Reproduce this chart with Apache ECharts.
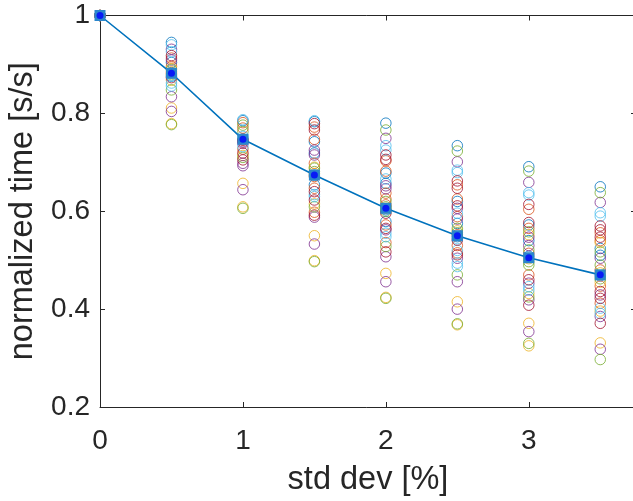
<!DOCTYPE html>
<html>
<head>
<meta charset="utf-8">
<script src="https://cdn.jsdelivr.net/npm/echarts@6/dist/echarts.min.js"></script>
<style>html,body{margin:0;padding:0;background:#fff;}#c{width:633px;height:501px;}</style>
</head>
<body>
<div id="c"></div>
<script>
// MATLAB default colour order
const palette = ['#0072BD','#D95319','#EDB120','#7E2F8E','#77AC30','#4DBEEE','#A2142F'];
const B=0,O=1,Y=2,P=3,G=4,C=5,R=6;

const stdDev = [0, 0.5, 1, 1.5, 2, 2.5, 3, 3.5];
const meanTime = [1, 0.882, 0.747, 0.674, 0.606, 0.550, 0.505, 0.470];

const col0 = [1,1,1,1,1,1,1];
const col0Colors = [B,O,Y,P,G,C,R];
const col05 = [0.945,0.940,0.931,0.926,0.918,0.913,0.909,0.904,0.896,0.892,0.889,0.885,0.882,0.879,0.876,0.873,0.868,0.862,0.856,0.848,0.834,0.811,0.804,0.779,0.777];
const col05Colors = [B,C,P,C,R,O,P,B,O,Y,G,Y,O,G,B,R,Y,C,C,G,P,Y,P,Y,G];
const col10 = [0.787,0.785,0.781,0.776,0.770,0.763,0.753,0.748,0.745,0.742,0.739,0.732,0.727,0.719,0.714,0.710,0.705,0.698,0.693,0.657,0.644,0.606,0.609];
const col10Colors = [C,B,O,G,O,G,C,B,R,P,P,C,O,R,Y,G,R,P,P,Y,P,G,Y];
const col15 = [0.785,0.783,0.779,0.772,0.766,0.747,0.742,0.725,0.719,0.715,0.698,0.690,0.688,0.681,0.677,0.674,0.671,0.654,0.647,0.640,0.634,0.630,0.623,0.615,0.609,0.598,0.592,0.588,0.550,0.533,0.497,0.499];
const col15Colors = [C,B,R,O,R,O,B,P,B,P,O,Y,G,G,Y,B,O,B,O,R,C,C,R,Y,G,O,R,P,Y,P,G,Y];
const col20 = [0.780,0.766,0.749,0.734,0.725,0.715,0.706,0.703,0.682,0.678,0.666,0.657,0.652,0.646,0.637,0.625,0.620,0.613,0.609,0.606,0.603,0.600,0.596,0.579,0.572,0.565,0.562,0.555,0.548,0.536,0.528,0.517,0.507,0.473,0.456,0.422,0.424];
const col20Colors = [B,G,P,C,C,R,R,O,O,B,C,B,P,P,O,O,G,O,G,Y,B,G,R,B,O,R,P,C,C,O,G,R,P,Y,P,G,Y];
const col25 = [0.734,0.723,0.701,0.684,0.679,0.662,0.654,0.647,0.625,0.620,0.611,0.606,0.596,0.589,0.584,0.575,0.565,0.560,0.556,0.552,0.548,0.544,0.541,0.530,0.520,0.515,0.511,0.504,0.494,0.487,0.470,0.456,0.415,0.400,0.370,0.368];
const col25Colors = [B,G,P,C,C,R,O,R,O,B,R,P,C,O,P,B,G,Y,G,O,B,C,R,O,C,O,R,P,C,C,G,P,Y,P,G,Y];
const col30 = [0.691,0.682,0.659,0.638,0.633,0.614,0.604,0.577,0.572,0.565,0.558,0.552,0.547,0.540,0.530,0.521,0.514,0.508,0.503,0.497,0.490,0.470,0.460,0.453,0.446,0.439,0.432,0.425,0.419,0.408,0.371,0.354,0.330,0.325];
const col30Colors = [B,G,P,C,C,R,O,R,B,O,G,Y,P,B,P,G,O,B,Y,G,G,O,R,P,C,C,Y,G,P,R,Y,P,G,Y];
const col35 = [0.650,0.638,0.618,0.597,0.590,0.570,0.562,0.556,0.547,0.540,0.536,0.524,0.517,0.510,0.504,0.490,0.480,0.474,0.468,0.462,0.455,0.447,0.436,0.429,0.422,0.412,0.402,0.396,0.391,0.385,0.371,0.331,0.318,0.297];
const col35Colors = [B,G,P,C,C,R,R,O,R,O,Y,B,G,B,P,G,O,Y,B,G,Y,O,R,P,R,O,C,Y,C,P,R,Y,P,G];

const xTickLabels = ['0','1','2','3'];
const yTickLabels = ['0.2','0.4','0.6','0.8','1'];

const columns = [[col0,col0Colors],[col05,col05Colors],[col10,col10Colors],[col15,col15Colors],[col20,col20Colors],[col25,col25Colors],[col30,col30Colors],[col35,col35Colors]];
const perColor = palette.map(()=>[]);
columns.forEach(([vals, cols], i) => {
  vals.forEach((v, j) => perColor[cols[j]].push([stdDev[i], v]));
});

const axisCol = '#262626';
const font = 'Liberation Sans, Arial, sans-serif';
const series = palette.map((c, k) => ({
  type: 'scatter',
  data: perColor[k],
  symbol: 'circle',
  symbolSize: 10.5,
  silent: true,
  itemStyle: { color: 'rgba(0,0,0,0)', borderColor: c, borderWidth: 1 },
  z: 2
}));
series.push({
  type: 'line',
  data: stdDev.map((x, i) => [x, meanTime[i]]),
  symbol: 'rect',
  symbolSize: 11,
  showSymbol: true,
  lineStyle: { color: '#0072BD', width: 1.6 },
  itemStyle: { color: '#2a86cc' },
  silent: true,
  z: 5
});
series.push({
  type: 'scatter',
  data: stdDev.map((x, i) => [x, meanTime[i]]),
  symbol: 'circle',
  symbolSize: 7,
  itemStyle: { color: '#0000FF' },
  silent: true,
  z: 6
});

const chart = echarts.init(document.getElementById('c'), null, { renderer: 'canvas' });
chart.setOption({
  animation: false,
  backgroundColor: '#ffffff',
  grid: { left: 100, top: 15.5, width: 536, height: 391.5, containLabel: false, outerBoundsMode: 'none' },
  xAxis: [{
    type: 'value', min: 0, max: 3.75, interval: 1, position: 'bottom',
    axisLine: { show: true, onZero: false, lineStyle: { color: axisCol, width: 1 } },
    axisTick: { show: true, inside: true, length: 5, lineStyle: { color: axisCol } },
    splitLine: { show: false },
    axisLabel: { show: true, color: axisCol, fontSize: 28, fontFamily: font, margin: 20, showMaxLabel: false,
      formatter: v => (Number.isInteger(v) && v < xTickLabels.length) ? xTickLabels[v] : '' },
    name: 'std dev [%]', nameLocation: 'middle', nameGap: 57,
    nameTextStyle: { color: axisCol, fontSize: 32.5, fontFamily: font }
  }, {
    type: 'value', min: 0, max: 3.75, interval: 1, position: 'top',
    axisLine: { show: true, onZero: false, lineStyle: { color: axisCol, width: 1 } },
    axisTick: { show: true, inside: true, length: 5, lineStyle: { color: axisCol } },
    splitLine: { show: false }, axisLabel: { show: false }
  }],
  yAxis: [{
    type: 'value', min: 0.2, max: 1, interval: 0.2, position: 'left',
    axisLine: { show: true, onZero: false, lineStyle: { color: axisCol, width: 1 } },
    axisTick: { show: true, inside: true, length: 5, lineStyle: { color: axisCol } },
    splitLine: { show: false },
    axisLabel: { show: true, color: axisCol, fontSize: 28, fontFamily: font, margin: 10,
      formatter: v => yTickLabels[Math.round((v - 0.2) / 0.2)] || '' },
    name: 'normalized time [s/s]', nameLocation: 'middle', nameGap: 60,
    nameTextStyle: { color: axisCol, fontSize: 32.5, fontFamily: font }
  }, {
    type: 'value', min: 0.2, max: 1, interval: 0.2, position: 'right',
    axisLine: { show: true, onZero: false, lineStyle: { color: axisCol, width: 1 } },
    axisTick: { show: true, inside: true, length: 5, lineStyle: { color: axisCol } },
    splitLine: { show: false }, axisLabel: { show: false }
  }],
  series: series
});
</script>
</body>
</html>
